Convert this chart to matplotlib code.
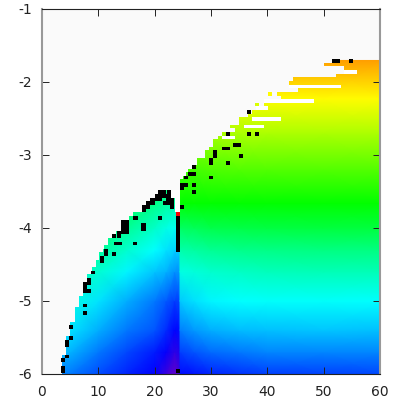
import matplotlib
matplotlib.use('Agg')
import matplotlib.pyplot as plt
from matplotlib.colors import LinearSegmentedColormap
import numpy as np

plt.rcParams['font.family'] = 'DejaVu Sans'
plt.rcParams['axes.unicode_minus'] = False

# colour level: 0 blue, 1 cyan, 2 green, 3 yellow, 4 red
left_x = [0, 5, 10, 15, 20, 22, 23.5, 24.5]
right_x = [24.5, 27, 30, 35, 40, 50, 60]
grid_y = [-6, -5.7, -5.4, -5, -4.6, -4.3, -4, -3.7, -3.4]
grid_y_right = [-6, -5.7, -5.4, -5, -4.6, -4.3, -4, -3.66, -3.2, -2.7, -2.23, -1.705]

left_v = [
    [0.55, 0.48, 0.30, 0.15, 0.00, -0.25, -0.42, -0.28],
    [0.80, 0.70, 0.48, 0.28, 0.10, -0.02, -0.20, -0.12],
    [1.00, 0.90, 0.68, 0.48, 0.34, 0.17, 0.02, 0.05],
    [1.18, 1.10, 0.90, 0.68, 0.47, 0.35, 0.24, 0.26],
    [1.40, 1.34, 1.18, 0.96, 0.78, 0.70, 0.58, 0.58],
    [1.58, 1.54, 1.40, 1.20, 1.00, 0.90, 0.82, 0.80],
    [1.72, 1.70, 1.60, 1.42, 1.22, 1.10, 1.05, 1.00],
    [1.80, 1.80, 1.75, 1.60, 1.45, 1.36, 1.32, 1.30],
    [1.85, 1.85, 1.85, 1.80, 1.65, 1.60, 1.55, 1.55],
]
right_v = [
    [0.03, 0.08, 0.14, 0.20, 0.24, 0.27, 0.29],
    [0.25, 0.33, 0.42, 0.48, 0.52, 0.52, 0.52],
    [0.50, 0.60, 0.68, 0.74, 0.76, 0.78, 0.76],
    [0.80, 0.88, 0.96, 1.00, 1.02, 1.02, 1.01],
    [1.10, 1.14, 1.20, 1.24, 1.26, 1.28, 1.28],
    [1.34, 1.38, 1.42, 1.46, 1.48, 1.50, 1.50],
    [1.62, 1.66, 1.70, 1.72, 1.74, 1.75, 1.76],
    [2.00, 2.00, 2.00, 2.00, 2.00, 2.00, 2.00],
    [2.25, 2.27, 2.30, 2.32, 2.33, 2.33, 2.33],
    [2.60, 2.62, 2.65, 2.67, 2.67, 2.67, 2.67],
    [3.00, 3.00, 3.00, 3.00, 3.00, 3.00, 3.00],
    [3.38, 3.38, 3.38, 3.38, 3.38, 3.38, 3.38],
]

# first filled x of every row, top row first
row_y = [-1.66, -1.71, -1.76, -1.81, -1.86, -1.91, -1.96, -2.01, -2.06, -2.11, -2.16,
         -2.21, -2.26, -2.31, -2.36, -2.41, -2.46, -2.51, -2.56, -2.61, -2.66,
         -2.71, -2.76, -2.81, -2.86, -2.91, -2.96, -3.01, -3.06, -3.11, -3.16,
         -3.21, -3.26, -3.31, -3.36, -3.41, -3.46, -3.51, -3.56, -3.61, -3.66,
         -3.71, -3.76, -3.81, -3.86, -3.91, -3.96, -4.01, -4.06, -4.11, -4.16,
         -4.21, -4.26, -4.31, -4.36, -4.41, -4.46, -4.51, -4.56, -4.61, -4.66,
         -4.71, -4.76, -4.81, -4.86, -4.91, -4.96, -5.01, -5.06, -5.11, -5.16,
         -5.21, -5.26, -5.31, -5.36, -5.41, -5.46, -5.51, -5.56, -5.61, -5.66,
         -5.71, -5.76, -5.81, -5.86, -5.91, -5.96, -6.01]
row_edge = [60.0, 52.2, 50.0, 53.6, 55.9, 52.2, 44.6, 43.9, 53.0, 45.4, 41.7,
            42.5, 48.3, 39.4, 40.1, 37.2, 36.5, 34.9, 34.9, 33.4, 34.2,
            31.9, 31.2, 30.4, 30.4, 29.7, 29.0, 29.0, 27.5, 27.5, 27.0,
            26.0, 25.5, 25.0, 24.5, 24.5, 24.5, 20.7, 20.0, 19.2, 18.5,
            17.7, 17.7, 16.2, 15.5, 14.7, 14.0, 14.0, 13.1, 12.4, 11.7,
            11.7, 11.0, 10.9, 10.2, 10.2, 9.5, 9.5, 8.8, 8.8, 8.0,
            8.0, 7.3, 7.3, 7.3, 7.3, 6.5, 6.5, 6.5, 5.8, 5.8,
            5.8, 5.8, 5.0, 5.0, 5.0, 5.0, 4.3, 4.3, 4.3, 4.3,
            4.3, 3.6, 3.6, 3.6, 3.6, 3.6, 3.6]

# white holes inside the filled part
gap_y = [-1.86, -2.06, -2.26, -2.36, -2.51, -2.61, -2.76,
         -3.51, -3.56, -3.61, -3.66, -3.71, -3.76]
gap_from = [53.6, 43.9, 39.4, 38.0, 37.2, 35.8, 31.9,
            22.9, 22.9, 23.6, 23.6, 23.6, 23.6]
gap_to = [55.9, 53.0, 48.3, 40.1, 42.4, 39.4, 34.2,
          24.5, 24.5, 24.5, 24.5, 24.5, 24.5]

# lone yellow cells left of the edge
dot_x = [40.5, 38.2]
dot_y = [-2.16, -2.31]
dot_v = [3.0, 2.85]

black_cells = [
    (3.75, -5.96), (3.75, -5.91), (3.75, -5.81), (4.5, -5.76), (4.5, -5.61), (4.5, -5.56),
    (5.2, -5.51), (5.2, -5.36), (7.6, -5.16), (7.6, -5.06),
    (7.6, -4.86), (7.6, -4.81), (7.6, -4.76), (8.3, -4.86), (8.3, -4.76), (8.3, -4.71), (9.0, -4.61),
    (10.6, -4.46), (10.6, -4.41), (11.3, -4.36), (11.3, -4.31), (12.8, -4.36),
    (13.1, -4.21), (13.9, -4.21), (16.5, -4.21), (12.8, -4.11), (13.6, -4.11), (13.6, -4.06),
    (14.4, -4.06), (14.4, -4.01), (14.4, -3.96), (14.4, -3.91),
    (15.1, -4.06), (15.1, -4.01), (15.1, -3.96), (15.1, -3.91), (16.6, -3.86),
    (18.0, -4.01), (18.0, -3.96), (21.0, -3.86),
    (21.0, -3.51), (21.7, -3.51), (22.5, -3.51),
    (20.4, -3.56), (21.1, -3.56), (21.8, -3.56), (22.5, -3.56),
    (19.6, -3.61), (20.3, -3.61), (21.0, -3.61), (22.4, -3.61), (23.1, -3.61),
    (18.9, -3.66), (19.6, -3.66), (21.8, -3.66), (22.5, -3.66), (23.1, -3.66),
    (18.1, -3.71), (18.8, -3.71), (23.1, -3.71), (18.1, -3.76),
    (24.8, -3.71), (24.2, -5.96),
    (24.2, -3.86), (24.2, -3.91), (24.2, -3.96), (24.2, -4.01), (24.2, -4.06), (24.2, -4.11),
    (24.2, -4.16), (24.2, -4.21), (24.2, -4.26), (24.2, -4.31),
    (51.8, -1.71), (52.6, -1.71), (54.8, -1.71), (36.8, -2.41), (33.0, -2.71), (36.8, -2.71),
    (38.2, -2.71), (32.3, -2.91), (33.0, -2.91), (34.2, -2.86), (34.9, -2.86), (35.3, -3.01),
    (30.7, -2.96), (30.7, -3.01), (30.0, -3.06), (30.0, -3.11), (33.0, -3.11),
    (27.0, -3.16), (27.0, -3.26), (26.3, -3.26), (25.5, -3.31), (30.0, -3.31),
    (24.8, -3.41), (25.5, -3.41), (24.8, -3.46), (27.0, -3.41), (27.0, -3.51),
]
black_x = [c[0] for c in black_cells]
black_y = [c[1] for c in black_cells]

red_x = [24.2]
red_y = [-3.81]

tick_x = [0, 10, 20, 30, 40, 50, 60]
tick_y = [-6, -5, -4, -3, -2, -1]

colours = [(0.45, 0.0, 0.75), (0, 0, 1), (0, 1, 1), (0, 1, 0), (1, 1, 0), (1, 0, 0)]
levels = [-0.5, 0, 1, 2, 3, 4]
cmap = LinearSegmentedColormap.from_list('rb', [((l + 0.5) / 4.5, c) for l, c in zip(levels, colours)])

fig = plt.figure(figsize=(4.07, 4.07), dpi=100)
ax = fig.add_axes([42 / 407, 33 / 407, 338 / 407, 365 / 407])
ax.set_facecolor('#fafafa')

ax.pcolormesh(left_x, grid_y, np.array(left_v), shading='gouraud', cmap=cmap, vmin=-0.5, vmax=4)
ax.pcolormesh(right_x, grid_y_right, np.array(right_v), shading='gouraud', cmap=cmap, vmin=-0.5, vmax=4)

ax.barh(row_y, row_edge, height=0.05, color='#fafafa', linewidth=0, antialiased=False)
ax.barh(gap_y, np.array(gap_to) - np.array(gap_from), left=gap_from, height=0.05, color='white', linewidth=0, antialiased=False)
ax.bar(dot_x, 0.05, width=0.75, bottom=np.array(dot_y) - 0.025, color=cmap((np.array(dot_v) + 0.5) / 4.5), linewidth=0, antialiased=False)
ax.bar(black_x, 0.05, width=0.75, bottom=np.array(black_y) - 0.025, color='black', linewidth=0, antialiased=False)
ax.bar(red_x, 0.05, width=0.75, bottom=np.array(red_y) - 0.025, color='red', linewidth=0, antialiased=False)

ax.set_xlim(0, 60)
ax.set_ylim(-6, -1)
ax.set_xticks(tick_x)
ax.set_yticks(tick_y)
ax.tick_params(direction='in', top=True, right=True, length=5, width=0.7, labelsize=10, pad=7, colors='#222222')
ax.tick_params(axis='x', pad=8)
for name in ['left', 'right']:
    ax.spines[name].set_linewidth(1.5)
    ax.spines[name].set_color('#999999')
for name in ['top', 'bottom']:
    ax.spines[name].set_linewidth(0.8)
    ax.spines[name].set_color('#222222')

fig.savefig('out.png', dpi=100)
